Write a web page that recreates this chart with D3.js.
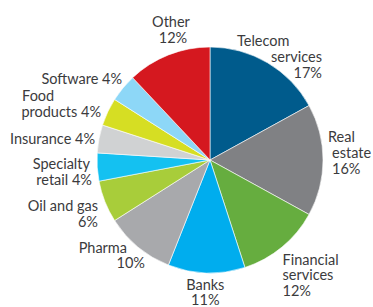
<!DOCTYPE html>
<html>
<head>
<meta charset="utf-8">
<script src="https://cdn.jsdelivr.net/npm/d3@7"></script>
<style>
  html, body { margin: 0; padding: 0; background: #fff; }
  svg { display: block; }
  text { font-family: Lato, "Noto Sans", sans-serif; font-size: 14.5px; fill: #3b3b3d; }
</style>
</head>
<body>
<svg id="chart" width="373" height="307"></svg>
<script>
// ---- data ----
const categories = ["Telecom services", "Real estate", "Financial services", "Banks", "Pharma",
  "Oil and gas", "Specialty retail", "Insurance", "Food products", "Software", "Other"];
const shares = [17, 16, 12, 11, 10, 6, 4, 4, 4, 4, 12];
const labelLines = [
  ["Telecom", "services", "17%"],
  ["Real", "estate", "16%"],
  ["Financial", "services", "12%"],
  ["Banks", "11%"],
  ["Pharma", "10%"],
  ["Oil and gas", "6%"],
  ["Specialty", "retail 4%"],
  ["Insurance 4%"],
  ["Food", "products 4%"],
  ["Software 4%"],
  ["Other", "12%"]
];
const colors = ["#005b8c", "#808184", "#66ad3f", "#00adee", "#a8a9ac",
  "#a8cd3a", "#14c1f1", "#d0d2d3", "#d6de23", "#8dd7f7", "#d5181f"];

// ---- label layout: per line [anchor, dx, dy] relative to the outer arc point ----
const labelLayout = [
  [["start", -39.7, -1.7], ["end", 45.3, 14.3], ["end", 45.3, 30.3]],
  [["start", -13, -18], ["start", -9, -2], ["start", -9, 13.5]],
  [["start", -11, 4], ["start", -11, 19.5], ["start", -11, 35]],
  [["middle", -0.6, -1], ["middle", -0.6, 14.5]],
  [["end", 0.5, -8], ["end", 18.5, 7.5]],
  [["end", 9.8, 2.5], ["end", 9.8, 18.5]],
  [["end", 10.7, 0.5], ["end", 12.7, 16.5]],
  [["end", 13.7, 8.5]],
  [["start", -69.4, -3], ["end", 9.6, 13]],
  [["end", 13, 7.5]],
  [["middle", 9.2, -11.2], ["middle", 11.2, 4.8]]
];

const cx = 210, cy = 160, r = 113, labelR = 131;

const svg = d3.select("#chart");
const g = svg.append("g").attr("transform", `translate(${cx},${cy})`);

const pie = d3.pie().sort(null).value(d => d)(shares);
const arc = d3.arc().innerRadius(0).outerRadius(r);

g.selectAll("path.slice")
  .data(pie)
  .join("path")
  .attr("class", "slice")
  .attr("d", arc)
  .attr("fill", (d, i) => colors[i])
  .attr("stroke", "#ffffff")
  .attr("stroke-width", 0.6);

pie.forEach((d, i) => {
  const mid = (d.startAngle + d.endAngle) / 2;
  const px = Math.sin(mid) * labelR;
  const py = -Math.cos(mid) * labelR;
  const t = g.append("text").attr("class", "label");
  labelLines[i].forEach((line, j) => {
    const [anchor, dx, dy] = labelLayout[i][j];
    t.append("tspan")
      .attr("x", px + dx)
      .attr("y", py + dy)
      .attr("text-anchor", anchor)
      .text(line);
  });
});
</script>
</body>
</html>
